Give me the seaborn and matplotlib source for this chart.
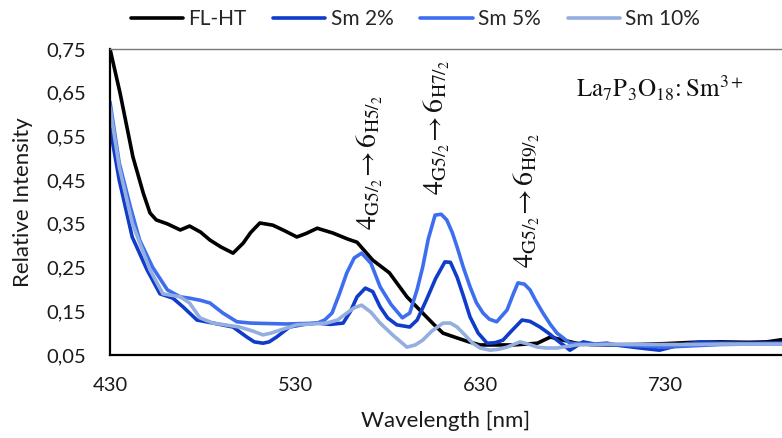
import numpy as np
import pandas as pd
import matplotlib
matplotlib.use("Agg")
import matplotlib.pyplot as plt
import seaborn as sns
from matplotlib.ticker import FuncFormatter

# ---------------- data ----------------
fl_x = [430, 435.4, 442.4, 448, 451.6, 455, 461, 468, 473, 479, 484, 490, 496.5, 502, 506, 511, 518, 524,
        531, 536, 542, 550.5, 558.6, 563.5, 572, 581, 590.5, 599, 605, 610, 617.6, 624, 630, 640, 648,
        655, 661, 668, 675, 682, 690, 700, 715, 730, 745, 760, 775, 785, 793]
fl_y = [0.75, 0.65, 0.503, 0.42, 0.375, 0.359, 0.35, 0.336, 0.345, 0.331, 0.313, 0.297, 0.283, 0.306, 0.33,
        0.352, 0.347, 0.335, 0.32, 0.328, 0.34, 0.329, 0.315, 0.308, 0.267, 0.238, 0.183, 0.146, 0.12, 0.10,
        0.089, 0.08, 0.073, 0.073, 0.073, 0.075, 0.077, 0.091, 0.084, 0.077, 0.074, 0.073, 0.074, 0.076,
        0.079, 0.08, 0.079, 0.08, 0.085]

sm2_x = [430, 435, 442, 450, 457, 464, 469.5, 477, 485.7, 496.5, 504, 508, 512.7, 516, 520, 527, 535, 542,
         549, 556, 560, 563.5, 568, 572, 576, 580, 585, 592, 596, 601, 606, 611, 614, 617.6, 621, 624.6,
         629, 633.8, 638, 642.4, 647, 652.7, 657, 662.4, 667, 671.6, 678.6, 685.7, 692, 698.6, 705, 716.5,
         727, 738, 749, 760, 775, 793]
sm2_y = [0.57, 0.45, 0.32, 0.245, 0.19, 0.18, 0.16, 0.13, 0.123, 0.114, 0.091, 0.08, 0.077, 0.08, 0.091,
         0.114, 0.12, 0.123, 0.12, 0.123, 0.15, 0.183, 0.203, 0.195, 0.16, 0.135, 0.119, 0.114, 0.13, 0.176,
         0.225, 0.263, 0.262, 0.228, 0.185, 0.137, 0.1, 0.077, 0.078, 0.084, 0.105, 0.13, 0.127, 0.114,
         0.1, 0.084, 0.061, 0.08, 0.075, 0.077, 0.072, 0.066, 0.061, 0.073, 0.08, 0.078, 0.077, 0.078]

sm5_x = [430, 435, 441, 446, 453, 461, 468, 473, 479, 484, 491, 498.6, 506, 515, 525, 535, 542, 546, 550,
         554, 558, 562, 566, 571, 576, 582, 588, 592, 596, 599, 602, 605.7, 609, 612, 615, 617.6, 621,
         624.6, 628, 631.6, 635, 639, 644.6, 648, 650.5, 654, 657, 660, 664, 668, 671.6, 678.6, 690, 705,
         720, 730, 740, 760, 775, 793]
sm5_y = [0.629, 0.489, 0.389, 0.313, 0.251, 0.199, 0.183, 0.18, 0.175, 0.169, 0.146, 0.126, 0.123, 0.122,
         0.121, 0.122, 0.123, 0.13, 0.146, 0.19, 0.238, 0.272, 0.283, 0.26, 0.206, 0.165, 0.135, 0.146,
         0.2, 0.251, 0.315, 0.37, 0.372, 0.359, 0.33, 0.297, 0.25, 0.206, 0.17, 0.146, 0.132, 0.126, 0.153,
         0.19, 0.215, 0.212, 0.199, 0.175, 0.146, 0.12, 0.10, 0.077, 0.074, 0.073, 0.07, 0.068, 0.07,
         0.074, 0.075, 0.075]

sm10_x = [430, 435, 442, 451.6, 458.6, 468, 473, 478.6, 485.7, 500, 507, 512.7, 517, 522, 531, 547, 553,
          558, 562, 566, 571, 576, 583, 590.5, 595, 599, 604, 610, 614, 617.6, 622, 626, 630, 635.4, 640,
          644.6, 651.6, 656, 661, 666, 671.6, 682, 700, 720, 740, 760, 775, 793]
sm10_y = [0.617, 0.48, 0.352, 0.245, 0.19, 0.183, 0.169, 0.135, 0.123, 0.114, 0.105, 0.096, 0.1, 0.107,
          0.119, 0.123, 0.13, 0.146, 0.158, 0.164, 0.148, 0.123, 0.095, 0.068, 0.073, 0.084, 0.105, 0.123,
          0.123, 0.114, 0.095, 0.077, 0.066, 0.061, 0.063, 0.068, 0.08, 0.075, 0.068, 0.066, 0.066, 0.073,
          0.075, 0.074, 0.074, 0.075, 0.075, 0.075]

series_names = ["FL-HT", "Sm 2%", "Sm 5%", "Sm 10%"]
series_colors = ["#000000", "#0f3cc9", "#3d6ef0", "#94aee0"]

x_ticks = [430, 530, 630, 730]
y_ticks = [0.05, 0.15, 0.25, 0.35, 0.45, 0.55, 0.65, 0.75]

annot_texts = [r"$4_{\mathrm{G}5/_{2}}\!\rightarrow 6_{\mathrm{H}5/_{2}}$",
               r"$4_{\mathrm{G}5/_{2}}\!\rightarrow 6_{\mathrm{H}7/_{2}}$",
               r"$4_{\mathrm{G}5/_{2}}\!\rightarrow 6_{\mathrm{H}9/_{2}}$"]
annot_x = [570.5, 606.8, 655.4]
annot_y = [0.336, 0.416, 0.249]

# ---------------- build long table ----------------
frames = []
for name, xs, ys in zip(series_names, [fl_x, sm2_x, sm5_x, sm10_x], [fl_y, sm2_y, sm5_y, sm10_y]):
    frames.append(pd.DataFrame({"Wavelength": xs, "Intensity": ys, "Series": name}))
df = pd.concat(frames, ignore_index=True)

sns.set_theme(style="white")
plt.rcParams["font.family"] = ["Lato", "DejaVu Sans"]
plt.rcParams["mathtext.fontset"] = "stix"

fig = plt.figure(figsize=(7.82, 4.38), dpi=100)
ax = fig.add_axes([110 / 782, 1 - 355 / 438, 1 - 110 / 782, (355 - 49) / 438])

sns.lineplot(data=df, x="Wavelength", y="Intensity", hue="Series", hue_order=series_names,
             palette=dict(zip(series_names, series_colors)), estimator=None, sort=False,
             linewidth=2.6, ax=ax, legend=True)

ax.set_xlim(430, 793.2)
ax.set_ylim(0.05, 0.75)
ax.set_xticks(x_ticks)
ax.set_yticks(y_ticks)
ax.yaxis.set_major_formatter(FuncFormatter(lambda v, p: f"{v:.2f}".replace(".", ",")))
ax.tick_params(axis="both", length=0, labelsize=14.5, colors="#1a1a1a")
ax.tick_params(axis="x", pad=16)
ax.tick_params(axis="y", pad=17)

for s in ["left", "bottom"]:
    ax.spines[s].set_color("black")
    ax.spines[s].set_linewidth(1.6)
ax.spines["top"].set_color("#777777")
ax.spines["top"].set_linewidth(1.0)
ax.spines["right"].set_visible(False)

ax.set_xlabel("Wavelength [nm]", fontsize=16, color="#1a1a1a")
ax.set_ylabel("Relative Intensity", fontsize=16, color="#1a1a1a")
ax.xaxis.set_label_coords((446 - 110) / 672, -(411 - 355) / 306)
ax.yaxis.set_label_coords(-(110 - 33) / 672, 0.5)

for t, xx, yy in zip(annot_texts, annot_x, annot_y):
    ax.text(xx, yy, t, rotation=90, ha="center", va="bottom", fontsize=20, color="#111111")

ax.text(727, 0.661, r"$\mathrm{La_7P_3O_{18}\!:Sm^{3+}}$", ha="center", va="center", fontsize=18,
        color="#111111")

handles, labels = ax.get_legend_handles_labels()
ax.legend_.remove()
fig.legend(handles, labels, loc="center", bbox_to_anchor=(0.531, 0.957), ncol=4, frameon=False,
           fontsize=15, handlelength=2.5, columnspacing=1.3, handletextpad=0.25)

fig.savefig("out.png", dpi=100)
